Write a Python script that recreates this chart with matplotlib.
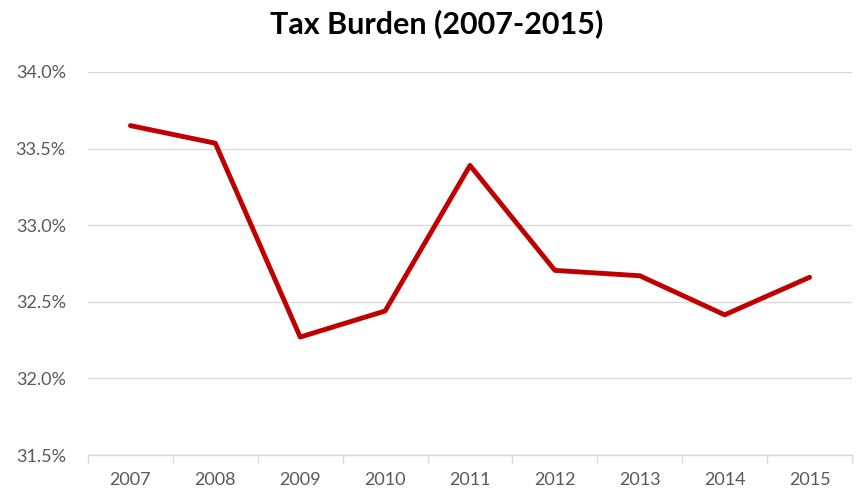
import matplotlib
matplotlib.use("Agg")
import matplotlib.pyplot as plt
from matplotlib.ticker import FixedLocator, FuncFormatter

years = ["2007", "2008", "2009", "2010", "2011", "2012", "2013", "2014", "2015"]
tax_burden = [33.65, 33.535, 32.27, 32.44, 33.39, 32.705, 32.67, 32.415, 32.66]
y_ticks = [31.5, 32.0, 32.5, 33.0, 33.5, 34.0]

plt.rcParams['font.family'] = ['Lato', 'DejaVu Sans']

fig = plt.figure(figsize=(8.58, 4.93), dpi=100)
ax = fig.add_axes([88/858, 1-455/493, (852-88)/858, (455-72)/493])

x = list(range(len(years)))
ax.plot(x, tax_burden, color="#c00000", linewidth=3.5, solid_joinstyle="round", solid_capstyle="round")

ax.set_xlim(-0.5, len(years) - 0.5)
ax.set_ylim(31.5, 34.0)
ax.set_yticks(y_ticks)
ax.yaxis.set_major_formatter(FuncFormatter(lambda v, p: f"{v:.1f}%"))
ax.grid(axis="y", color="#d9d9d9", linewidth=1.0)
ax.set_axisbelow(True)

ax.set_xticks(x)
ax.set_xticklabels(years)
ax.xaxis.set_minor_locator(FixedLocator([i - 0.5 for i in range(len(years) + 1)]))
ax.tick_params(axis="x", which="major", length=0, pad=12, labelsize=13, labelcolor="#595959")
ax.tick_params(axis="x", which="minor", length=6, color="#d9d9d9", width=1.0)
ax.tick_params(axis="y", length=0, pad=16, labelsize=13, labelcolor="#595959")

for s in ["top", "right", "left"]:
    ax.spines[s].set_visible(False)
ax.spines["bottom"].set_color("#d9d9d9")
ax.spines["bottom"].set_linewidth(1.0)

fig.text(437/858, 1-24/493, "Tax Burden (2007-2015)", ha="center", va="center",
         fontsize=22, fontweight="bold", color="black")

fig.savefig("out.png", dpi=100)
